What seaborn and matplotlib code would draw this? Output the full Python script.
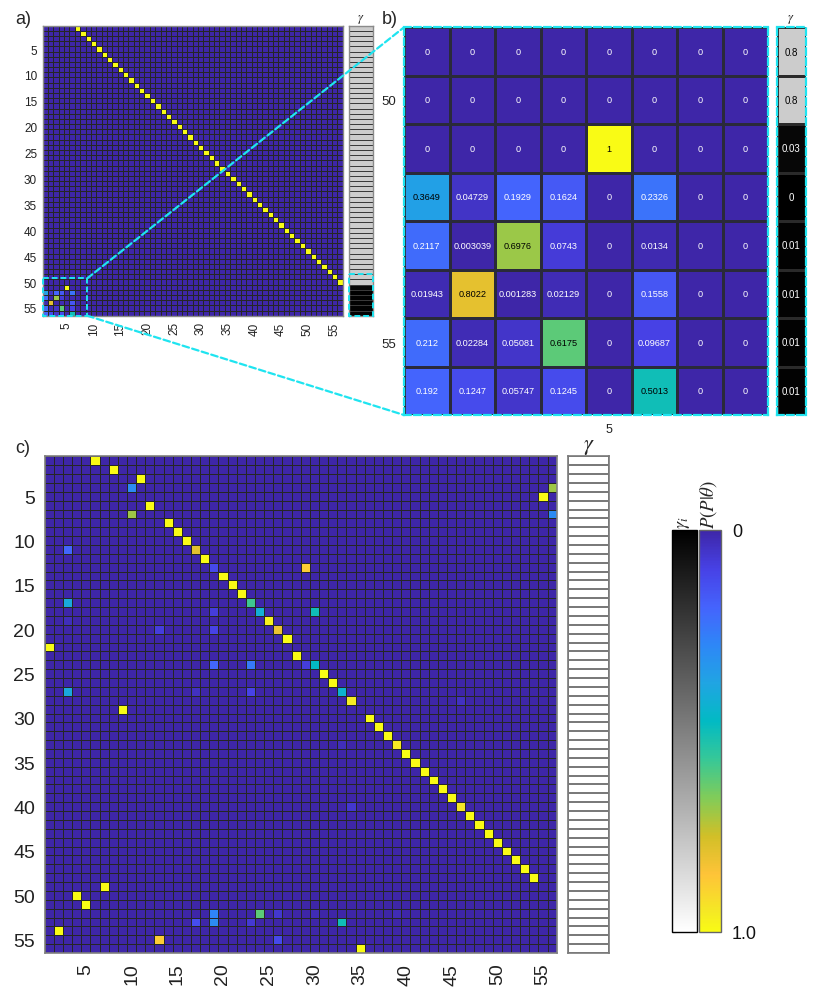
import numpy as np
import seaborn as sns
import matplotlib.pyplot as plt
from matplotlib.colors import LinearSegmentedColormap, Normalize
from matplotlib.cm import ScalarMappable
from matplotlib.patches import Rectangle, ConnectionPatch
from matplotlib.ticker import MultipleLocator

sns.set_style('white')
plt.rcParams['font.family'] = ['Liberation Sans', 'DejaVu Sans']
plt.rcParams['mathtext.fontset'] = 'stix'

N = 56
W, H = 831, 995
CYAN = '#1fe4f0'

# --- panel a: one peak per row (rows 1-50), rows 49-56 / cols 1-8 shown in panel b
a_peak_cols = [7, 8, 9, 10, 11, 12, 13, 14, 15, 16, 17, 18, 19, 20, 21, 22, 23,
               24, 25, 26, 27, 28, 29, 30, 31, 32, 33, 34, 35, 36, 37, 38, 39, 40,
               41, 42, 43, 44, 45, 46, 47, 48, 49, 50, 51, 52, 53, 54, 55, 56]
b_block = [
    [0, 0, 0, 0, 0, 0, 0, 0],
    [0, 0, 0, 0, 0, 0, 0, 0],
    [0, 0, 0, 0, 1, 0, 0, 0],
    [0.3649, 0.04729, 0.1929, 0.1624, 0, 0.2326, 0, 0],
    [0.2117, 0.003039, 0.6976, 0.0743, 0, 0.0134, 0, 0],
    [0.01943, 0.8022, 0.001283, 0.02129, 0, 0.1558, 0, 0],
    [0.212, 0.02284, 0.05081, 0.6175, 0, 0.09687, 0, 0],
    [0.192, 0.1247, 0.05747, 0.1245, 0, 0.5013, 0, 0],
]
b_gamma = [0.8, 0.8, 0.03, 0, 0.01, 0.01, 0.01, 0.01]
a_gamma = [0.8] * 48 + b_gamma

# --- panel c: non-zero cells (row, col, value), 1-based
c_rows = [1, 2, 3, 4, 4, 5, 6, 7, 7, 8, 9, 10, 11, 11, 12, 13, 13, 14, 15, 16,
          17, 17, 18, 18, 18, 19, 19, 20, 20, 20, 21, 22, 23, 24, 24, 24, 24, 25, 26,
          27, 27, 27, 27, 28, 28, 29, 30, 31, 32, 33, 33, 34, 35, 36, 37, 38, 39,
          40, 40, 41, 42, 43, 44, 45, 46, 47, 48, 49, 50, 51, 52, 52, 52, 52, 52,
          53, 53, 53, 53, 54, 55, 55, 56]
c_cols = [6, 8, 11, 10, 56, 55, 12, 10, 56, 14, 15, 16, 3, 17, 18, 19, 29, 20, 21, 22,
          3, 23, 19, 24, 30, 3, 25, 13, 19, 26, 27, 1, 28, 19, 23, 29, 30, 31, 32,
          3, 17, 23, 33, 34, 46, 9, 36, 37, 38, 33, 39, 40, 41, 42, 43, 44, 45,
          34, 46, 47, 48, 49, 50, 51, 52, 53, 54, 7, 4, 5, 19, 24, 26, 30, 39,
          17, 19, 23, 33, 2, 13, 26, 35]
c_vals = [1, 1, 1, .3, .7, 1, 1, .7, .3, 1, 1, 1, .2, .8, 1, .12, .88, 1, 1, 1,
          .4, .58, .08, .42, .5, .03, .97, .08, .1, .82, 1, 1, 1, .2, .25, .08, .47, 1, 1,
          .4, .04, .1, .44, .96, .04, 1, 1, 1, 1, .03, .95, 1, 1, 1, 1, 1, 1,
          .06, .94, 1, 1, 1, 1, 1, 1, 1, 1, 1, 1, 1, .28, .62, .06, .02, .02,
          .13, .3, .07, .5, 1, .88, .12, 1]
c_gamma = [1.0] * N

ticks = [5, 10, 15, 20, 25, 30, 35, 40, 45, 50, 55]

# MATLAB parula approximation
parula_pts = [
    (0.2422, 0.1504, 0.6603), (0.2783, 0.2559, 0.8991), (0.2699, 0.3892, 0.9906),
    (0.1786, 0.5289, 0.9682), (0.1248, 0.6459, 0.8883), (0.0067, 0.7312, 0.7660),
    (0.2161, 0.7843, 0.5923), (0.5044, 0.7993, 0.3480), (0.8203, 0.7498, 0.1535),
    (0.9970, 0.7659, 0.2199), (0.9597, 0.9135, 0.1423), (0.9769, 0.9839, 0.0805)]
parula_pos = [0, 6, 12, 18, 24, 30, 36, 42, 48, 54, 60, 63]
parula = LinearSegmentedColormap.from_list(
    'parula', [(p / 63, c) for p, c in zip(parula_pos, parula_pts)])

# build matrices
a_mat = np.zeros((N, N))
for r, c in enumerate(a_peak_cols):
    a_mat[r, c - 1] = 1
a_mat[48:56, 0:8] = np.array(b_block)

c_mat = np.zeros((N, N))
for r, c, v in zip(c_rows, c_cols, c_vals):
    c_mat[r - 1, c - 1] = v


def box(x0, y0, x1, y1):
    return [x0 / W, 1 - y1 / H, (x1 - x0) / W, (y1 - y0) / H]


def border(ax, color='#8a8a8a', lw=1.0, ls='-'):
    for s in ax.spines.values():
        s.set_visible(True)
        s.set_color(color)
        s.set_linewidth(lw)
        s.set_linestyle(ls)


fig = plt.figure(figsize=(W / 100, H / 100), dpi=100)

# ---------------- panel a ----------------
axA = fig.add_axes(box(42.7, 26.7, 342.7, 316.7))
sns.heatmap(a_mat, ax=axA, cmap=parula, vmin=0, vmax=1, cbar=False,
            linewidths=0.45, linecolor='#262626', xticklabels=False, yticklabels=False)
axA.set_xticks(np.array(ticks) - 0.5)
axA.set_xticklabels([str(t) for t in ticks], rotation=90, fontsize=8.5)
axA.set_yticks(np.array(ticks) - 0.5)
axA.set_yticklabels([str(t) for t in ticks], rotation=0, fontsize=8.5)
axA.tick_params(length=0, pad=4, colors='#222')
border(axA)
axA.add_patch(Rectangle((0, 48.8), 8.3, 7.2, fill=False, ec=CYAN, lw=1.4,
                        ls=(0, (3, 1.5)), clip_on=False, zorder=5))

axAg = fig.add_axes(box(349, 26.7, 373, 316.7))
sns.heatmap(np.array(a_gamma)[:, None], ax=axAg, cmap='gray', vmin=0, vmax=1,
            cbar=False, linewidths=0.5, linecolor='#3a3a3a',
            xticklabels=False, yticklabels=False)
border(axAg)
axAg.add_patch(Rectangle((0, 48), 1, 8, fill=False, ec=CYAN, lw=1.4,
                         ls=(0, (3, 1.5)), clip_on=False, zorder=5))

# ---------------- panel b ----------------
axB = fig.add_axes(box(404, 28.3, 768.3, 416))
b_arr = np.array(b_block)
b_text = np.array([[f'{v:.4g}' for v in row] for row in b_block])
sns.heatmap(b_arr, ax=axB, cmap=parula, vmin=0, vmax=1, cbar=False,
            annot=b_text, fmt='', annot_kws={'fontsize': 6.6},
            linewidths=0.8, linecolor='#2a2a3a', xticklabels=False, yticklabels=False)
for t, v in zip(axB.texts, b_arr.flatten()):
    t.set_color('black' if v > 0.3 else 'white')
axB.set_yticks([1.5, 6.5])
axB.set_yticklabels(['50', '55'], rotation=0, fontsize=9.5)
axB.set_xticks([4.5])
axB.set_xticklabels(['5'], fontsize=9)
axB.tick_params(length=0, pad=6, colors='#222')
border(axB, CYAN, 1.6, (0, (3, 1.5)))

axBg = fig.add_axes(box(777, 28.3, 806, 416))
g_text = np.array([[f'{v:g}'] for v in b_gamma])
sns.heatmap(np.array(b_gamma)[:, None], ax=axBg, cmap='gray', vmin=0, vmax=1,
            cbar=False, annot=g_text, fmt='', annot_kws={'fontsize': 7},
            linewidths=0.8, linecolor='#2a2a2a', xticklabels=False, yticklabels=False)
for t, v in zip(axBg.texts, b_gamma):
    t.set_color('black' if v > 0.5 else 'white')
border(axBg, CYAN, 1.6, (0, (3, 1.5)))

for xyA, xyB in [((8.3, 48.8), (0, 1)), ((8.3, 56), (0, 0))]:
    con = ConnectionPatch(xyA=xyA, coordsA=axA.transData, xyB=xyB,
                          coordsB=axB.transAxes, color=CYAN, lw=1.6,
                          ls=(0, (3, 1.5)), zorder=6)
    fig.add_artist(con)

# ---------------- panel c ----------------
axC = fig.add_axes(box(44.7, 457.3, 556.7, 954))
sns.heatmap(c_mat, ax=axC, cmap=parula, vmin=0, vmax=1, cbar=False,
            linewidths=0.6, linecolor='#262626', xticklabels=False, yticklabels=False)
axC.set_xticks(np.array(ticks) - 0.5)
axC.set_xticklabels([str(t) for t in ticks], rotation=90, fontsize=14)
axC.set_yticks(np.array(ticks) - 0.5)
axC.set_yticklabels([str(t) for t in ticks], rotation=0, fontsize=14)
axC.tick_params(length=0, pad=7, colors='#222')
border(axC, '#808080', 1.2)

axCg = fig.add_axes(box(568, 457.3, 609, 954))
sns.heatmap(np.array(c_gamma)[:, None], ax=axCg, cmap='gray', vmin=0, vmax=1,
            cbar=False, linewidths=1.2, linecolor='#7a7a7a',
            xticklabels=False, yticklabels=False)
border(axCg, '#7a7a7a', 1.2)

# colour bars
norm = Normalize(0, 1)
cax_g = fig.add_axes(box(672, 531, 697, 933))
cb_g = fig.colorbar(ScalarMappable(norm=norm, cmap='gray'), cax=cax_g)
cax_g.invert_yaxis()
cb_g.set_ticks([])
cax_g.yaxis.set_minor_locator(MultipleLocator(0.1))
cax_g.tick_params(which='minor', left=True, right=False, direction='in',
                  length=3, width=0.8, color='#555')
cb_g.outline.set_edgecolor('black')
cb_g.outline.set_linewidth(1.0)

cax_p = fig.add_axes(box(698.5, 531, 721, 933))
cb_p = fig.colorbar(ScalarMappable(norm=norm, cmap=parula), cax=cax_p)
cax_p.invert_yaxis()
cb_p.set_ticks([0, 1], labels=['0', '1.0'])
cax_p.yaxis.set_minor_locator(MultipleLocator(0.1))
cax_p.tick_params(which='major', length=0, labelsize=13, pad=8, colors='#111')
cax_p.tick_params(which='minor', left=True, right=False, direction='in',
                  length=3, width=0.8, color='#444')
cb_p.outline.set_edgecolor('#666')
cb_p.outline.set_linewidth(1.0)

# ---------------- texts ----------------
fig.text(15 / W, 1 - 20 / H, 'a)', fontsize=13, va='center', ha='left')
fig.text(382 / W, 1 - 20 / H, 'b)', fontsize=13, va='center', ha='left')
fig.text(15 / W, 1 - 449 / H, 'c)', fontsize=13, va='center', ha='left')
fig.text(361 / W, 1 - 20 / H, r'$\gamma$', fontsize=9, ha='center', va='center')
fig.text(791 / W, 1 - 20 / H, r'$\gamma$', fontsize=9, ha='center', va='center')
fig.text(589 / W, 1 - 447 / H, r'$\gamma$', fontsize=16, ha='center', va='center')
fig.text(684 / W, 1 - 529 / H, r'$\gamma_i$', fontsize=13, rotation=90,
         ha='center', va='bottom')
fig.text(709 / W, 1 - 529 / H, r'$P(P|\theta)$', fontsize=13.5, rotation=90,
         ha='center', va='bottom')

fig.savefig('out.png', dpi=100)
